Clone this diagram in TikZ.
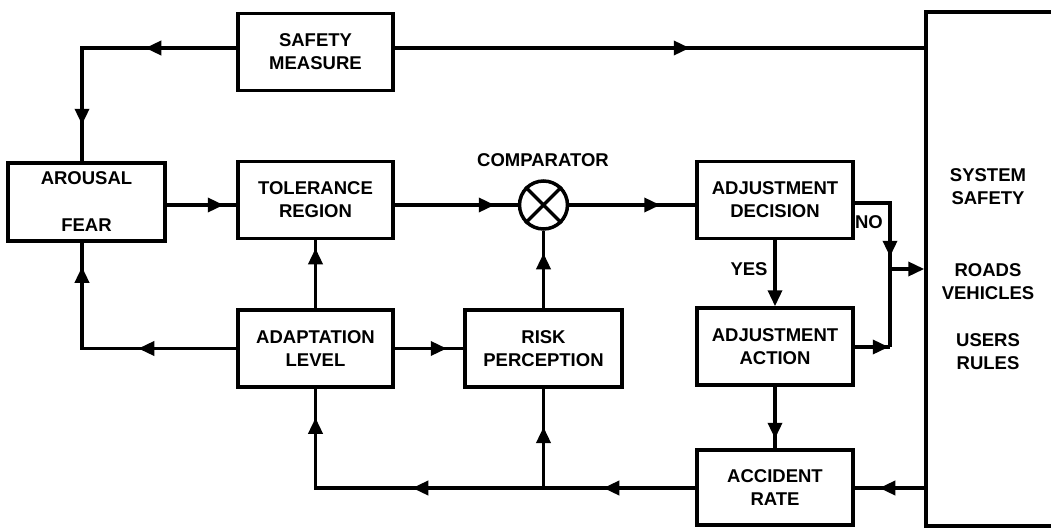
\documentclass[tikz,border=0pt]{standalone}
\usepackage{fontspec}
\setmainfont{Liberation Sans}
\usetikzlibrary{arrows.meta,decorations.markings}
\tikzset{
  ftip/.tip={Triangle[length=16pt,width=14pt]},
  txt/.style={font=\fontsize{18.5}{23}\selectfont\bfseries},
  blk/.style={draw, line width=3.5pt, rectangle, minimum width=155pt, minimum height=77pt,
    inner sep=0pt, align=center, txt},
  lbl/.style={txt, inner sep=0pt, align=center},
  wire/.style={line width=3.5pt},
  arr/.style={postaction={decorate,decoration={markings,mark=at position #1 with {\arrow{ftip}}}}},
}
\begin{document}
\begin{tikzpicture}[x=1pt,y=-1pt]
\path[use as bounding box] (0,0) rectangle (1051,527);
\clip (0,0) rectangle (1051,527);

% blocks
\node[blk] (sm) at (315.5,52) {SAFETY\\MEASURE};
\node[blk, minimum width=157pt, minimum height=78pt] (ar) at (86.5,202) {AROUSAL\\[24pt]FEAR};
\node[blk] (tr) at (315.5,200) {TOLERANCE\\REGION};
\node[draw, circle, line width=3.5pt, minimum size=48pt, inner sep=0pt] (cmp) at (543.5,205) {};
\draw[line width=3.5pt] (cmp.north west) -- (cmp.south east) (cmp.north east) -- (cmp.south west);
\node[lbl] (cmplbl) at (543,160) {COMPARATOR};
\node[blk, minimum width=156pt] (ad) at (775,200) {ADJUSTMENT\\DECISION};
\node[blk, minimum width=156pt] (aa) at (775,346.5) {ADJUSTMENT\\ACTION};
\node[blk] (al) at (315.5,348.5) {ADAPTATION\\LEVEL};
\node[blk, minimum width=157pt] (rp) at (543.5,348.5) {RISK\\PERCEPTION};
\node[blk, minimum width=156pt, minimum height=75pt] (acc) at (775,487.5) {ACCIDENT\\RATE};
% system block: its right side lies beyond the picture edge
\node[minimum width=170pt, minimum height=514pt, inner sep=0pt, outer sep=1.75pt] (sys) at (1011,269) {};
\draw[line width=3.5pt] ([xshift=-1.75pt,yshift=-1.75pt]sys.north east) -- ([xshift=1.75pt,yshift=-1.75pt]sys.north west)
  -- ([xshift=1.75pt,yshift=1.75pt]sys.south west) -- ([xshift=-1.75pt,yshift=1.75pt]sys.south east);
\node[lbl] (systxt) at (988,269) {SYSTEM\\SAFETY\\[49pt]ROADS\\VEHICLES\\[24pt]USERS\\RULES};

\node[lbl] (yes) at (749,269) {YES};
\node[lbl] (nolbl) at (869,222) {NO};

% helper coordinates
\coordinate (tl) at (82,48);
\coordinate (bl) at (82,348.5);
\coordinate (mid) at (0,205);
\coordinate (no) at (890,203);
\coordinate (jn1) at (890,269);
\coordinate (jn2) at (890,347);
\coordinate (bot) at (0,488);
\coordinate (br) at (315.5,488);
\coordinate (jr) at (543.5,488);

% connectors
\draw[wire, arr=91pt, arr=231pt] (sm.west|-tl) -- (tl) -- (tl|-ar.north);
\draw[wire, arr=295pt] (sm.east|-tl) -- (sys.west|-tl);
\draw[wire, arr=57pt] (ar.east|-mid) -- (tr.west|-mid);
\draw[wire, arr=100pt] (tr.east|-mid) -- (cmp.west);
\draw[wire, arr=91pt] (cmp.east) -- (ad.west|-mid);
\draw[wire, arr=89pt] (ad.east|-no) -- (no) -- (jn2);
\draw[wire, arr=34pt] (aa.east|-jn2) -- (jn2);
\draw[wire, -ftip] (jn1) -- (sys.west|-jn1);
\draw[wire, -ftip] (ad.south) -- (aa.north);
\draw[wire, arr=52pt] (aa.south) -- (acc.north);
\draw[wire, arr=45pt] (sys.west|-bot) -- (acc.east|-bot);
\draw[wire, arr=92pt, arr=283pt, arr=450pt] (acc.west|-bot) -- (br) -- (al.south);
\draw[wire, arr=61pt] (jr) -- (rp.south);
\draw[wire, arr=55pt] (rp.north) -- (cmp.south);
\draw[wire, arr=60pt] (al.north) -- (tr.south);
\draw[wire, arr=52pt] (al.east) -- (rp.west);
\draw[wire, arr=98pt, arr=236pt] (al.west) -- (bl) -- (bl|-ar.south);
\end{tikzpicture}
\end{document}
